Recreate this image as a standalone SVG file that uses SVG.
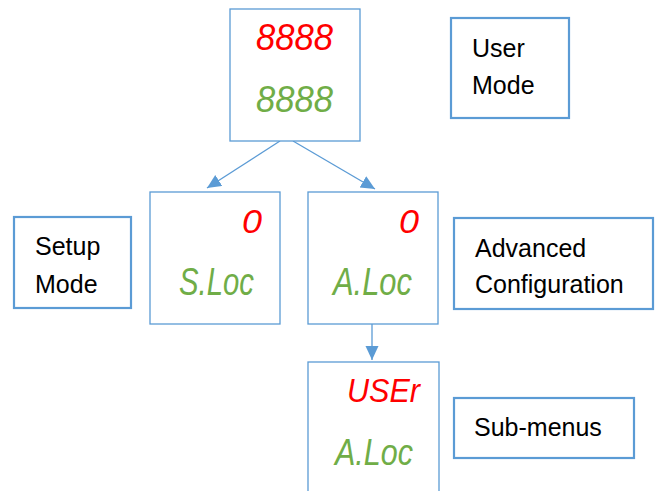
<svg xmlns="http://www.w3.org/2000/svg" width="660" height="491" viewBox="0 0 660 491">
<style>
.disp{fill:#fff;stroke:#5B9BD5;stroke-width:1.3}
.lbl{fill:#fff;stroke:#5B9BD5;stroke-width:2.2}
.t{font-family:"Liberation Sans",Arial,sans-serif;font-size:25px;fill:#000}
.seg{font-family:"Liberation Sans",Arial,sans-serif;font-style:italic;}
.r{fill:#FF0000}
.g{fill:#70AD47}
.conn{stroke:#5B9BD5;stroke-width:1.3;fill:none;marker-end:url(#ah)}
</style>
<defs>
<marker id="ah" markerUnits="userSpaceOnUse" markerWidth="15" markerHeight="14" refX="14" refY="6.5" orient="auto">
<path d="M0,0 L14,6.5 L0,13 z" fill="#5B9BD5"/>
</marker>
</defs>
<rect width="660" height="491" fill="#fff"/>
<g id="connectors">
<line class="conn" x1="280" y1="141" x2="207" y2="188"/>
<line class="conn" x1="293" y1="141" x2="375" y2="189"/>
<line class="conn" x1="372" y1="324" x2="372" y2="360"/>
</g>
<g id="user-display">
<rect class="disp" x="230" y="9" width="130" height="132"/>
<text class="seg r" x="256" y="50" font-size="36" textLength="77" lengthAdjust="spacingAndGlyphs">8888</text>
<text class="seg g" x="256" y="112" font-size="36" textLength="77" lengthAdjust="spacingAndGlyphs">8888</text>
</g>
<g id="user-mode">
<rect class="lbl" x="451" y="18" width="118" height="100"/>
<text class="t" x="472" y="57">User</text>
<text class="t" x="472" y="94">Mode</text>
</g>
<g id="setup-display">
<rect class="disp" x="150" y="192" width="130" height="132"/>
<text class="seg r" x="242" y="233" font-size="34" textLength="20" lengthAdjust="spacingAndGlyphs">0</text>
<text class="seg g" x="179" y="295" font-size="38" textLength="75" lengthAdjust="spacingAndGlyphs">S.Loc</text>
</g>
<g id="setup-mode">
<rect class="lbl" x="14" y="217" width="117" height="91"/>
<text class="t" x="35" y="255">Setup</text>
<text class="t" x="35" y="293">Mode</text>
</g>
<g id="advanced-display">
<rect class="disp" x="308" y="192" width="130" height="132"/>
<text class="seg r" x="399" y="233" font-size="34" textLength="20" lengthAdjust="spacingAndGlyphs">0</text>
<text class="seg g" x="333" y="295" font-size="38" textLength="79" lengthAdjust="spacingAndGlyphs">A.Loc</text>
</g>
<g id="advanced-configuration">
<rect class="lbl" x="454" y="218" width="199" height="91"/>
<text class="t" x="475" y="257">Advanced</text>
<text class="t" x="475" y="293">Configuration</text>
</g>
<g id="submenu-display">
<rect class="disp" x="308" y="362" width="131" height="140"/>
<text class="seg r" x="347" y="402" font-size="33" textLength="73" lengthAdjust="spacingAndGlyphs">USEr</text>
<text class="seg g" x="335" y="465" font-size="37" textLength="78" lengthAdjust="spacingAndGlyphs">A.Loc</text>
</g>
<g id="sub-menus">
<rect class="lbl" x="454" y="398" width="180" height="60"/>
<text class="t" x="474" y="436">Sub-menus</text>
</g>
</svg>
